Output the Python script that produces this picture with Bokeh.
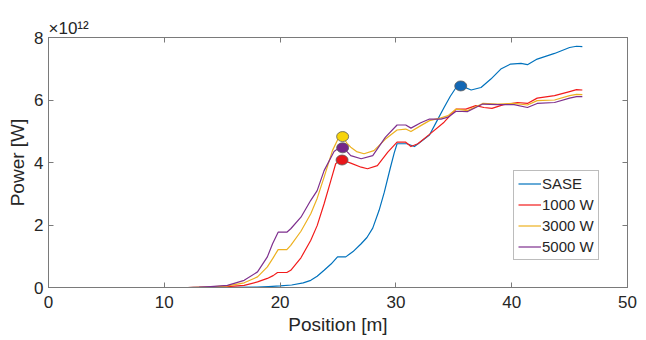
from bokeh.plotting import figure
from bokeh.models import Range1d, LinearAxis, FixedTicker, Legend, LegendItem, Title, CustomJSTickFormatter
from bokeh.embed import file_html
from bokeh.resources import INLINE

# Power values in units of 1e12 W
sase_x = [0, 12, 16, 18, 19, 20, 21, 22, 22.65, 23.2, 23.8, 24.4, 24.96, 25.67, 26.3, 27.0, 27.5, 28.0, 28.55,
          29.0, 29.5, 29.85, 30.1, 30.95, 31.6, 32.2, 32.9, 33.5, 34.16, 34.7, 35.2, 35.6, 36.5, 37.35, 38.2,
          39.06, 39.9, 40.8, 41.36, 42.2, 43.7, 45.0, 45.6, 46.1]
sase_y = [0, 0, 0.005, 0.015, 0.03, 0.05, 0.08, 0.15, 0.23, 0.36, 0.55, 0.75, 0.98, 0.98, 1.15, 1.4, 1.6, 1.9, 2.47,
          3.05, 3.8, 4.3, 4.6, 4.6, 4.51, 4.68, 4.88, 5.3, 5.76, 6.12, 6.4, 6.46, 6.32, 6.4, 6.67,
          6.99, 7.15, 7.17, 7.13, 7.31, 7.49, 7.68, 7.72, 7.71]

w1000_x = [0, 12, 14, 15.45, 16.9, 18.05, 18.9, 19.4, 19.78, 20.58, 20.92, 21.8, 22.65, 23.2, 23.8, 24.38, 24.8,
           25.25, 25.6, 26.1, 27.0, 27.55, 28.4, 29.3, 30.1, 30.85, 31.3, 31.9, 32.9, 34.16, 35.2, 36.04, 36.9,
           37.6, 38.3, 39.3, 40.5, 41.36, 42.2, 43.7, 45.0, 45.6, 46.1]
w1000_y = [0, 0, 0.01, 0.03, 0.07, 0.18, 0.29, 0.38, 0.48, 0.48, 0.55, 0.95, 1.51, 1.98, 2.68, 3.42, 3.96,
           4.1, 4.05, 3.98, 3.85, 3.8, 3.9, 4.33, 4.65, 4.65, 4.51, 4.6, 4.9, 5.29, 5.71, 5.71, 5.82,
           5.76, 5.73, 5.85, 5.92, 5.89, 6.06, 6.14, 6.27, 6.33, 6.32]

w3000_x = [0, 12, 14, 15.45, 16.9, 18.05, 18.9, 19.4, 19.83, 20.58, 20.92, 21.8, 22.65, 23.2, 23.8, 24.52, 25.0,
           25.4, 25.8, 26.1, 26.6, 27.25, 28.1, 29.1, 30.1, 30.85, 31.3, 32.15, 32.9, 33.9, 34.5, 35.2, 36.2,
           37.5, 38.8, 40.2, 41.36, 42.2, 43.7, 45.0, 45.6, 46.1]
w3000_y = [0, 0, 0.02, 0.05, 0.15, 0.34, 0.66, 0.95, 1.21, 1.21, 1.35, 1.8, 2.36, 2.85, 3.53, 4.38, 4.75,
           4.83, 4.6, 4.49, 4.35, 4.28, 4.38, 4.75, 5.04, 5.07, 4.99, 5.18, 5.34, 5.43, 5.5, 5.71, 5.66,
           5.89, 5.87, 5.89, 5.84, 5.98, 6.0, 6.14, 6.18, 6.17]

w5000_x = [0, 12, 13, 14, 15.45, 16.9, 18.05, 18.9, 19.35, 19.83, 20.58, 20.92, 21.8, 22.65, 23.2, 23.8, 24.66,
           25.2, 25.6, 26.1, 27.0, 28.0, 29.1, 30.1, 30.85, 31.3, 32.15, 32.9, 33.9, 34.5, 35.2, 36.2, 37.5,
           38.8, 40.2, 41.36, 42.2, 43.7, 45.0, 45.6, 46.1]
w5000_y = [0, 0, 0.01, 0.03, 0.07, 0.23, 0.5, 0.98, 1.4, 1.77, 1.77, 1.88, 2.25, 2.79, 3.1, 3.74, 4.35,
           4.5, 4.42, 4.22, 4.12, 4.22, 4.81, 5.2, 5.2, 5.1, 5.27, 5.39, 5.39, 5.45, 5.64, 5.63, 5.87,
           5.85, 5.85, 5.76, 5.89, 5.92, 6.06, 6.11, 6.11]

# Highlighted points (x, y) per series
marker_x = [35.6, 25.35, 25.4, 25.4]
marker_y = [6.45, 4.08, 4.83, 4.47]

series_names = ["SASE", "1000 W", "3000 W", "5000 W"]
x_ticks = [0, 10, 20, 30, 40, 50]
y_ticks = [0, 2, 4, 6, 8]
y_scale_text = "×10¹²"

line_colors = ["#0072BD", "#F21B1B", "#EDB120", "#7E2F8E"]
marker_colors = ["#1267B5", "#E8161B", "#F7D40A", "#74258A"]

FONT = "Liberation Sans"
AX = "#7a7a7a"
TXT = "#262626"

p = figure(width=646, height=340, output_backend="svg", toolbar_location=None,
           x_range=Range1d(0, 50), y_range=Range1d(0, 8),
           min_border_left=48, min_border_right=19, min_border_top=37, min_border_bottom=53,
           background_fill_color="white", border_fill_color="white")
p.grid.visible = False
p.outline_line_color = AX
p.outline_line_width = 1

for ax in (p.xaxis[0], p.yaxis[0]):
    ax.axis_line_color = AX
    ax.major_tick_line_color = AX
    ax.major_tick_in = 5
    ax.major_tick_out = 0
    ax.minor_tick_line_color = None
    ax.major_label_text_font = FONT
    ax.major_label_text_font_size = "17px"
    ax.major_label_text_color = TXT
    ax.axis_label_text_font = FONT
    ax.axis_label_text_font_size = "19px"
    ax.axis_label_text_font_style = "normal"
    ax.axis_label_text_color = TXT

p.xaxis[0].ticker = FixedTicker(ticks=x_ticks)
p.yaxis[0].ticker = FixedTicker(ticks=y_ticks)
p.xaxis[0].axis_label = "Position [m]"
p.yaxis[0].axis_label = "Power [W]"
p.xaxis[0].major_label_standoff = 8
p.xaxis[0].axis_label_standoff = 3
p.yaxis[0].major_label_standoff = 5
p.yaxis[0].axis_label_standoff = 3

blank = "return ''"
top = LinearAxis(ticker=FixedTicker(ticks=x_ticks), formatter=CustomJSTickFormatter(code=blank),
                 axis_line_color=AX, major_tick_line_color=AX, major_tick_in=5, major_tick_out=0,
                 minor_tick_line_color=None, major_label_standoff=0, major_label_text_font_size="1px")
right = LinearAxis(ticker=FixedTicker(ticks=y_ticks), formatter=CustomJSTickFormatter(code=blank),
                   axis_line_color=AX, major_tick_line_color=AX, major_tick_in=5, major_tick_out=0,
                   minor_tick_line_color=None, major_label_standoff=0, major_label_text_font_size="1px")
p.add_layout(top, "above")
p.add_layout(right, "right")

xs = [sase_x, w1000_x, w3000_x, w5000_x]
ys = [sase_y, w1000_y, w3000_y, w5000_y]
renderers = []
for xx, yy, c in zip(xs, ys, line_colors):
    r = p.line(xx, yy, line_color=c, line_width=1.2, line_join="round")
    renderers.append(r)

for mx, my, mc in zip(marker_x, marker_y, marker_colors):
    p.ellipse(x=[mx], y=[my], width=12, height=10, width_units="screen", height_units="screen",
              fill_color=mc, line_color="#5a5a5a", line_width=0.8)

legend = Legend(items=[LegendItem(label=n, renderers=[r]) for n, r in zip(series_names, renderers)],
                location=(465, 27), margin=0, padding=4, spacing=4, label_height=17, glyph_height=17,
                glyph_width=23, label_standoff=1, label_text_font=FONT, label_text_font_size="15px",
                label_text_color=TXT, border_line_color=AX, border_line_width=1,
                background_fill_color="white", background_fill_alpha=1)
p.add_layout(legend, "center")

p.add_layout(Title(text=y_scale_text, align="left", offset=0, standoff=0, text_font=FONT,
                   text_font_size="17px", text_font_style="normal", text_color=TXT), "above")

open("out.html", "w").write(file_html(p, INLINE))
